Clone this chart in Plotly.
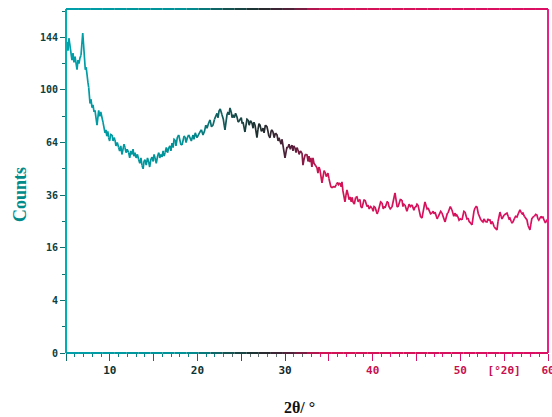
import numpy as np
import plotly.graph_objects as go

# ---------------- data ----------------
two_theta = [
    5.00, 5.11, 5.23, 5.34, 5.46, 5.57, 5.68, 5.80, 5.91, 6.03, 6.14, 6.26, 6.37, 6.48, 6.60, 6.71, 6.80, 6.91,
    7.00, 7.10, 7.20, 7.30, 7.40, 7.50, 7.59, 7.67, 7.74, 7.85, 7.97, 8.08, 8.20, 8.31, 8.42, 8.54, 8.63, 8.73,
    8.85, 8.97, 9.11, 9.22, 9.34, 9.45, 9.55, 9.66, 9.77, 9.87, 9.98, 10.10, 10.25, 10.37, 10.48, 10.59, 10.70,
    10.85, 11.01, 11.12, 11.25, 11.39, 11.50, 11.62, 11.73, 11.85, 11.98, 12.15, 12.27, 12.40, 12.53, 12.65,
    12.75, 12.87, 13.00, 13.15, 13.30, 13.42, 13.55, 13.67, 13.80, 13.90, 14.01, 14.15, 14.30, 14.44, 14.55,
    14.68, 14.81, 14.95, 15.05, 15.16, 15.30, 15.45, 15.58, 15.70, 15.82, 15.95, 16.08, 16.20, 16.30, 16.45,
    16.58, 16.72, 16.85, 16.97, 17.10, 17.22, 17.33, 17.44, 17.55, 17.70, 17.86, 17.98, 18.10, 18.24, 18.35,
    18.47, 18.58, 18.70, 18.85, 19.00, 19.15, 19.30, 19.49, 19.60, 19.75, 19.95, 20.10, 20.29, 20.45, 20.63,
    20.80, 20.95, 21.09, 21.25, 21.43, 21.60, 21.77, 21.95, 22.10, 22.23, 22.35, 22.46, 22.60, 22.80, 22.95,
    23.05, 23.14, 23.25, 23.37, 23.50, 23.60, 23.71, 23.85, 23.95, 24.06, 24.20, 24.35, 24.51, 24.65, 24.85,
    25.00, 25.10, 25.20, 25.30, 25.42, 25.55, 25.65, 25.77, 25.90, 26.05, 26.22, 26.35, 26.45, 26.57, 26.68,
    26.79, 26.90, 27.02, 27.14, 27.30, 27.48, 27.60, 27.75, 27.93, 28.05, 28.15, 28.28, 28.40, 28.50, 28.62,
    28.75, 28.90, 29.08, 29.20, 29.30, 29.42, 29.55, 29.65, 29.76, 29.88, 29.99, 30.10, 30.20, 30.33, 30.45,
    30.60, 30.79, 30.90, 31.00, 31.13, 31.25, 31.35, 31.47, 31.60, 31.75, 31.93, 32.04, 32.15, 32.30, 32.50,
    32.62, 32.72, 32.84, 32.95, 33.05, 33.18, 33.30, 33.45, 33.64, 33.75, 33.87, 33.98, 34.10, 34.21, 34.33,
    34.45, 34.55, 34.70, 34.89, 35.00, 35.10, 35.22, 35.35, 35.50, 35.69, 35.85, 36.00, 36.10, 36.26, 36.40,
    36.49, 36.60, 36.72, 36.83, 36.95, 37.06, 37.20, 37.30, 37.41, 37.55, 37.65, 37.75, 37.90, 38.05, 38.20,
    38.35, 38.45, 38.55, 38.65, 38.77, 38.90, 39.00, 39.12, 39.25, 39.35, 39.46, 39.60, 39.75, 39.92, 40.05,
    40.15, 40.26, 40.40, 40.50, 40.60, 40.75, 40.90, 41.06, 41.20, 41.30, 41.40, 41.55, 41.65, 41.74, 41.85,
    42.00, 42.20, 42.35, 42.45, 42.54, 42.65, 42.78, 42.88, 43.00, 43.15, 43.34, 43.45, 43.55, 43.68, 43.80,
    43.90, 44.02, 44.15, 44.30, 44.48, 44.60, 44.70, 44.82, 44.95, 45.05, 45.16, 45.30, 45.45, 45.62, 45.75,
    45.85, 45.96, 46.10, 46.20, 46.31, 46.45, 46.60, 46.76, 46.90, 47.00, 47.10, 47.25, 47.35, 47.45, 47.60,
    47.75, 47.90, 48.05, 48.15, 48.25, 48.40, 48.50, 48.59, 48.70, 48.85, 49.04, 49.15, 49.25, 49.39, 49.50,
    49.60, 49.73, 49.85, 50.00, 50.19, 50.30, 50.40, 50.53, 50.65, 50.75, 50.87, 51.00, 51.15, 51.33, 51.45,
    51.55, 51.67, 51.80, 51.90, 52.05, 52.15, 52.24, 52.35, 52.45, 52.58, 52.70, 52.85, 53.04, 53.15, 53.25,
    53.38, 53.50, 53.60, 53.72, 53.85, 54.00, 54.18, 54.30, 54.40, 54.52, 54.65, 54.75, 54.86, 55.00, 55.15,
    55.32, 55.45, 55.55, 55.66, 55.80, 55.90, 56.00, 56.15, 56.30, 56.46, 56.60, 56.70, 56.80, 56.95, 57.05,
    57.15, 57.30, 57.45, 57.60, 57.72, 57.85, 57.94, 58.05, 58.15, 58.29, 58.45, 58.60, 58.74, 58.85, 58.95,
    59.08, 59.20, 59.30, 59.43, 59.55, 59.70, 59.89, 60.00,
]
counts = [
    128, 140, 132, 143, 136, 126, 124, 130, 122, 127, 120, 116, 124, 121, 126, 128, 136, 148,
    138, 125, 116, 118, 110, 106, 102, 96, 90, 93, 87, 89, 84, 85, 80, 75, 82, 85,
    81, 84, 80, 77, 73, 70, 72, 68, 71, 67, 65, 69, 68.7, 65, 67, 65.6, 62,
    64, 61, 59, 62, 57, 60, 63, 61, 58, 60, 58, 55, 59, 57, 60,
    56, 58, 55, 57, 54, 52, 55, 51, 49, 53, 54, 51, 55, 52.7, 50,
    54, 55.5, 53, 57, 55, 52, 56, 58, 55, 57, 55.5, 59, 56, 58, 61,
    58, 60.7, 62, 59, 63.7, 61, 66, 65.6, 62, 67, 68.7, 65, 63, 62.5, 66,
    68, 67.4, 64, 67, 68.7, 67, 65, 68.7, 66, 70, 67, 69, 70.6, 72, 68.7,
    71, 75, 73, 76, 78.5, 74, 75, 79, 81, 83, 80, 84.6, 86, 82, 79,
    75, 72, 78, 82, 84, 82, 86.8, 84, 80, 82, 80, 83, 80.5, 77, 78.5,
    80, 76, 77, 74, 70.6, 76, 79, 78.5, 75, 78, 76.5, 73, 77, 75, 71,
    67, 72, 76, 75, 71, 73, 70, 75, 74, 71, 68, 67, 71, 72, 70.6,
    67, 70, 68.7, 65, 67, 64.4, 63, 66, 62.5, 59, 55, 58, 61, 61, 63,
    60, 62.5, 59, 62, 60.7, 58, 61, 59.6, 57, 59, 57.8, 51, 54, 57, 56.7,
    53, 56, 52.7, 55, 50, 55, 52, 51, 49.5, 46.8, 50, 48.4, 45, 41.8, 45,
    48, 47.4, 45, 46.8, 44, 41, 40, 39.4, 40, 39.8, 41, 42, 41, 41.8, 40,
    42.3, 38, 35, 33, 36, 38.4, 36, 34, 35.2, 33, 35, 33, 32, 35, 35.2,
    33, 34, 33.8, 31, 30.4, 32, 33.8, 33.8, 32, 31, 31.7, 30, 31, 30.4, 29,
    31, 30.8, 29.5, 28, 28.7, 31, 33, 32.5, 30, 31, 30.4, 32, 33, 33, 31,
    30, 30.8, 33, 35, 37, 33, 31, 30.8, 32, 34, 33.8, 31, 32, 31.7, 30,
    29, 30.4, 32, 31, 31.7, 30, 29.5, 30.8, 31, 32, 31.7, 29, 27, 26.3, 29,
    32, 33, 31, 30, 30.4, 29, 28, 28.3, 29, 28, 28.7, 27.5, 26, 26.7, 28,
    29, 28.3, 27, 25.5, 24.8, 27, 28, 28.3, 30, 31, 29.6, 28, 27, 28.3, 27,
    27.5, 26.7, 25.5, 26, 25.6, 27, 29, 28.7, 27, 26, 26.3, 25, 24.5, 23.7, 27,
    29, 30.4, 31, 30.8, 28, 27, 26.7, 25.5, 25, 24.8, 26, 25, 24.8, 26, 25.5,
    25.6, 24, 25, 24.4, 23, 22.5, 21.9, 25, 27, 28.7, 27, 26, 26.7, 27.5, 28,
    28.3, 27, 26, 26.3, 25, 24.5, 24.8, 26, 27, 26.7, 28, 29, 29.6, 28.5, 28,
    28.3, 27, 26, 25.6, 23.5, 22.5, 21.9, 24, 26, 26.7, 27, 27.8, 27.5, 26, 25.5,
    26.3, 27, 26.5, 26.7, 25.5, 24.5, 25.6, 26,
]

x_range = [5, 60]
y_major_counts = [0, 4, 16, 36, 64, 100, 144]
y_minor_counts = [1, 9, 25, 49, 81, 121, 169]
y_top_count = 171

x_ticks_a = [5, 10, 15, 20]
x_text_a = ["", "10", "", "20"]
x_ticks_b = [25, 30]
x_text_b = ["", "30"]
x_ticks_c = [35, 40, 45, 50, 55, 60]
x_text_c = ["", "40", "", "50", "[°2θ]", "60"]

# colour gradient along 2θ (cyan -> dark -> crimson/magenta)
col_stops_x = [5, 19, 23, 27, 31, 34, 60]
col_stops_rgb = [(0, 160, 170), (0, 145, 150), (20, 90, 90), (30, 45, 45),
                 (90, 30, 60), (210, 20, 85), (220, 15, 100)]


def colour(xv):
    r = np.interp(xv, col_stops_x, [c[0] for c in col_stops_rgb])
    g = np.interp(xv, col_stops_x, [c[1] for c in col_stops_rgb])
    b = np.interp(xv, col_stops_x, [c[2] for c in col_stops_rgb])
    return f"rgb({int(r)},{int(g)},{int(b)})"


xs = np.array(two_theta)
ys = np.sqrt(np.array(counts, dtype=float))  # square-root intensity scale

fig = go.Figure()
chunk = 3
for i in range(0, len(xs) - 1, chunk):
    seg_x = xs[i:i + chunk + 1]
    seg_y = ys[i:i + chunk + 1]
    xm = float(seg_x.mean())
    axis = "x" if xm < 22.5 else ("x2" if xm < 32.5 else "x3")
    fig.add_trace(go.Scatter(x=seg_x, y=seg_y, mode="lines", xaxis=axis, yaxis="y",
                             line=dict(color=colour(xm), width=1.7),
                             showlegend=False, hoverinfo="skip"))

tick_font_x = dict(family="DejaVu Sans Mono", size=11, weight="bold")
common_x = dict(range=x_range, ticks="outside", ticklen=7, tickwidth=1,
                showgrid=False, zeroline=False, showline=False, automargin=False)

fig.update_layout(
    width=552, height=417,
    margin=dict(l=66, r=4, t=9, b=64, autoexpand=False),
    paper_bgcolor="white", plot_bgcolor="white",
    showlegend=False,
    xaxis=dict(**common_x, tickmode="array", tickvals=x_ticks_a, ticktext=x_text_a,
               tickcolor="#0e6e6e",
               tickfont=dict(**tick_font_x, color="#0a3434"),
               minor=dict(tickvals=[v for v in range(6, 23) if v % 5], ticklen=3,
                          tickcolor="#0e8080", ticks="outside", showgrid=False)),
    xaxis2=dict(**common_x, overlaying="x", matches="x", anchor="y", side="bottom",
                tickmode="array", tickvals=x_ticks_b, ticktext=x_text_b,
                tickcolor="#404848",
                tickfont=dict(**tick_font_x, color="#10282c"),
                minor=dict(tickvals=[v for v in range(23, 33) if v % 5], ticklen=3,
                           tickcolor="#607070", ticks="outside", showgrid=False)),
    xaxis3=dict(**common_x, overlaying="x", matches="x", anchor="y", side="bottom",
                ticklabeloverflow="allow",
                tickmode="array", tickvals=x_ticks_c, ticktext=x_text_c,
                tickcolor="#d8106a",
                tickfont=dict(**tick_font_x, color="#c8104e"),
                minor=dict(tickvals=[v for v in range(33, 60) if v % 5], ticklen=3,
                           tickcolor="#e0187a", ticks="outside", showgrid=False)),
    yaxis=dict(range=[0, float(np.sqrt(y_top_count))], tickmode="array",
               tickvals=[float(np.sqrt(v)) for v in y_major_counts],
               ticktext=[str(v) for v in y_major_counts],
               ticks="outside", ticklen=5, tickcolor="#107070", automargin=False,
               tickfont=dict(family="DejaVu Sans Mono", size=10, weight="bold", color="#0d4040"),
               minor=dict(tickvals=[float(np.sqrt(v)) for v in y_minor_counts],
                          ticklen=3, tickcolor="#107070", ticks="outside", showgrid=False),
               showgrid=False, zeroline=False, showline=False),
)

# frame: left teal, right magenta, top & bottom with colour gradient
shapes = []
shapes.append(dict(type="line", xref="paper", yref="paper", x0=0, x1=0, y0=0, y1=1,
                   line=dict(color="#00b0b0", width=2)))
shapes.append(dict(type="line", xref="paper", yref="paper", x0=1, x1=1, y0=0, y1=1,
                   line=dict(color="#e8208a", width=2)))
nseg = 40
for k in range(nseg):
    f0, f1 = k / nseg, (k + 1) / nseg
    xm = x_range[0] + (f0 + f1) / 2 * (x_range[1] - x_range[0])
    c = colour(xm)
    for yy in (0, 1):
        shapes.append(dict(type="line", xref="paper", yref="paper", x0=f0, x1=f1, y0=yy, y1=yy,
                           line=dict(color=c, width=2)))
fig.update_layout(shapes=shapes)

fig.add_annotation(text="<b>Counts</b>", xref="paper", yref="paper", x=-0.0954, y=0.459,
                   xanchor="center", yanchor="middle",
                   textangle=-90, showarrow=False,
                   font=dict(family="Liberation Serif", size=18, color="#008b8b"))
fig.add_annotation(text="<b>2θ/ °</b>", xref="paper", yref="paper", x=0.485, y=-0.157,
                   xanchor="center", yanchor="middle",
                   showarrow=False,
                   font=dict(family="Liberation Serif", size=16, color="#111111"))

fig.write_html("out.html")
